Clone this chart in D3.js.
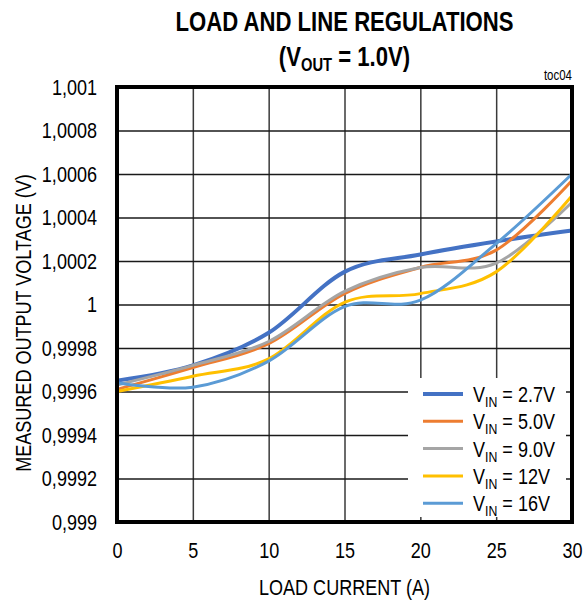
<!DOCTYPE html>
<html>
<head>
<meta charset="utf-8">
<script src="https://cdn.jsdelivr.net/npm/d3@7"></script>
<style>
  html, body { margin: 0; padding: 0; background: #fff; }
  svg text { font-family: "Liberation Sans Narrow", "Arial Narrow", "Liberation Sans", Arial, sans-serif; fill: #000; }
</style>
</head>
<body>
<svg id="chart" width="585" height="601"></svg>
<script>
// ---- data ----
const loadCurrent = [0, 5, 10, 15, 20, 25, 30];
const vin27 = [0.99965, 0.99972, 0.99987, 1.00015, 1.00023, 1.00029, 1.00034];
const vin50 = [0.99961, 0.99971, 0.99982, 1.00005, 1.00017, 1.00025, 1.00057];
const vin90 = [0.99963, 0.99972, 0.99983, 1.00006, 1.00017, 1.00019, 1.00047];
const vin12 = [0.99960, 0.99967, 0.99975, 1.00001, 1.00005, 1.00015, 1.00050];
const vin16 = [0.99964, 0.99962, 0.99974, 0.99999, 1.00002, 1.00028, 1.00060];
const seriesNames = ["2.7V", "5.0V", "9.0V", "12V", "16V"];
const seriesColors = ["#4472C4", "#ED7D31", "#A5A5A5", "#FFC000", "#5B9BD5"];
const xTickValues = [0, 5, 10, 15, 20, 25, 30];
const yTickValues = [0.999, 0.9992, 0.9994, 0.9996, 0.9998, 1.0, 1.0002, 1.0004, 1.0006, 1.0008, 1.001];
const yTickLabels = ["0,999", "0,9992", "0,9994", "0,9996", "0,9998", "1", "1,0002", "1,0004", "1,0006", "1,0008", "1,001"];

const allSeries = [vin27, vin50, vin90, vin12, vin16];

// ---- layout ----
const SX = 0.82; // horizontal condensing to mimic a narrow face
const svg = d3.select("#chart");
const L = 117, R = 572, T = 87, B = 522;

const x = d3.scaleLinear().domain([0, 30]).range([L, R]);
const y = d3.scaleLinear().domain([0.999, 1.001]).range([B, T]);

// gridlines via axes
svg.append("g")
  .attr("transform", `translate(0,${B})`)
  .call(d3.axisBottom(x).tickValues(xTickValues).tickSize(-(B - T)).tickFormat(""))
  .call(g => g.select(".domain").remove())
  .call(g => g.selectAll("line").attr("stroke", "#3a3a3a").attr("stroke-width", 1.5));

svg.append("g")
  .attr("transform", `translate(${L},0)`)
  .call(d3.axisLeft(y).tickValues(yTickValues).tickSize(-(R - L)).tickFormat(""))
  .call(g => g.select(".domain").remove())
  .call(g => g.selectAll("line").attr("stroke", "#1a1a1a").attr("stroke-width", 1.5));

// tick labels
const xAxisLbl = svg.append("g")
  .attr("transform", `translate(0,${B})`)
  .call(d3.axisBottom(x).tickValues(xTickValues).tickSize(0).tickPadding(20).tickFormat(d3.format("d")));
xAxisLbl.select(".domain").remove();
xAxisLbl.selectAll("text").attr("font-size", 22).style("font-family", null)
  .attr("transform", `scale(${SX},1)`);

const yAxisLbl = svg.append("g")
  .attr("transform", `translate(${L},0)`)
  .call(d3.axisLeft(y).tickValues(yTickValues).tickSize(0)
    .tickFormat((d, i) => yTickLabels[i]));
yAxisLbl.select(".domain").remove();
yAxisLbl.selectAll("text").attr("font-size", 22).style("font-family", null)
  .attr("x", -20 / SX).attr("transform", `scale(${SX},1)`);

// lines
const line = d3.line()
  .x((d, i) => x(loadCurrent[i]))
  .y(d => y(d))
  .curve(d3.curveCardinal.tension(0));

allSeries.forEach((s, k) => {
  svg.append("path")
    .datum(s)
    .attr("d", line)
    .attr("fill", "none")
    .attr("stroke", seriesColors[k])
    .attr("stroke-width", k === 0 ? 4 : 3)
    .attr("stroke-linecap", "round");
});

function narrowText(px, py, size, rot) {
  return svg.append("text")
    .attr("transform", `translate(${px},${py})` + (rot ? ` rotate(${rot})` : "") + ` scale(${SX},1)`)
    .attr("font-size", size);
}

// legend
const lg = svg.append("g");
lg.append("rect").attr("x", 408).attr("y", 378).attr("width", 158).attr("height", 139).attr("fill", "#fff");
seriesNames.forEach((n, k) => {
  const cy = 394 + k * 27.3;
  lg.append("line").attr("x1", 423).attr("x2", 463).attr("y1", cy).attr("y2", cy)
    .attr("stroke", seriesColors[k]).attr("stroke-width", k === 0 ? 4 : 3);
  const t = narrowText(473, cy + 8, 22);
  t.append("tspan").text("V");
  t.append("tspan").attr("font-size", 15).attr("dy", 5).text("IN");
  t.append("tspan").attr("dy", -5).text(" = " + n);
});

// frame
svg.append("rect").attr("x", L).attr("y", T).attr("width", R - L).attr("height", B - T)
  .attr("fill", "none").attr("stroke", "#000").attr("stroke-width", 4);

// titles
narrowText((L + R) / 2, 31, 27).attr("text-anchor", "middle").attr("font-weight", "bold")
  .text("LOAD AND LINE REGULATIONS");
const t2 = narrowText((L + R) / 2, 66, 27).attr("text-anchor", "middle").attr("font-weight", "bold");
t2.append("tspan").text("(V");
t2.append("tspan").attr("font-size", 18).attr("dy", 5).text("OUT");
t2.append("tspan").attr("dy", -5).text(" = 1.0V)");

narrowText(R, 80, 14).attr("text-anchor", "end").text("toc04");

narrowText((L + R) / 2, 595, 22).attr("text-anchor", "middle").text("LOAD CURRENT (A)");

narrowText(31, 323, 22, -90).attr("text-anchor", "middle").text("MEASURED OUTPUT VOLTAGE (V)");
</script>
</body>
</html>
